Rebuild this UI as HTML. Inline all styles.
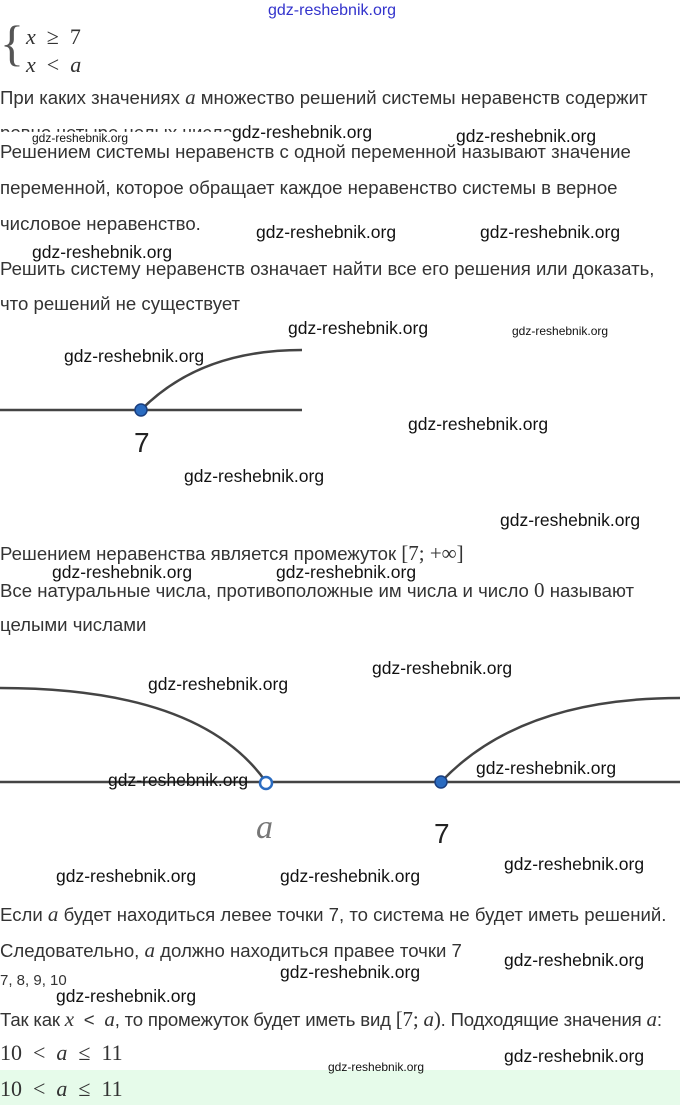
<!DOCTYPE html>
<html><head><meta charset="utf-8"><style>
body{margin:0;width:680px;height:1105px;background:#fff;position:relative;overflow:hidden;font-family:"Liberation Sans",sans-serif;}
.t{position:absolute;left:0;font-size:18.6px;color:#333;white-space:nowrap;}
.m{font-family:"Liberation Serif",serif;font-style:italic;font-size:21px;}
.w{position:absolute;font-size:17.5px;color:#111;white-space:nowrap;font-family:"Liberation Sans",sans-serif;}
.ws{font-size:12px;}
.mf{position:absolute;font-family:"Liberation Serif",serif;font-size:22px;color:#333;white-space:nowrap;}
</style></head><body>
<div class="w" style="left:268px;top:2px;color:#3333cc;font-size:16px">gdz-reshebnik.org</div>
<div class="mf" style="left:0;top:18px;font-size:50px;line-height:50px;color:#555">{</div>
<div class="mf" style="left:26px;top:24px"><i>x</i> &nbsp;≥ &nbsp;7</div>
<div class="mf" style="left:26px;top:52px"><i>x</i> &nbsp;&lt; &nbsp;<i>a</i></div>
<div class="t" style="top:85px">При каких значениях <span class="m">a</span> множество решений системы неравенств содержит</div>
<div class="t" style="top:122px;clip-path:inset(0 0 55% 0)">ровно четыре целых числа</div>
<div class="w ws" style="left:32px;top:131px">gdz-reshebnik.org</div>
<div class="w" style="left:232px;top:122px">gdz-reshebnik.org</div>
<div class="w" style="left:456px;top:126px">gdz-reshebnik.org</div>
<div class="t" style="top:141px">Решением системы неравенств с одной переменной называют значение</div>
<div class="t" style="top:177px">переменной, которое обращает каждое неравенство системы в верное</div>
<div class="t" style="top:213px">числовое неравенство.</div>
<div class="w" style="left:256px;top:222px">gdz-reshebnik.org</div>
<div class="w" style="left:480px;top:222px">gdz-reshebnik.org</div>
<div class="w" style="left:32px;top:242px">gdz-reshebnik.org</div>
<div class="t" style="top:258px">Решить систему неравенств означает найти все его решения или доказать,</div>
<div class="t" style="top:293px">что решений не существует</div>
<div class="w" style="left:288px;top:318px">gdz-reshebnik.org</div>
<div class="w ws" style="left:512px;top:324px">gdz-reshebnik.org</div>
<div class="w" style="left:64px;top:346px">gdz-reshebnik.org</div>
<div class="w" style="left:408px;top:414px">gdz-reshebnik.org</div>
<div class="w" style="left:184px;top:466px">gdz-reshebnik.org</div>
<div class="w" style="left:500px;top:510px">gdz-reshebnik.org</div>
<svg style="position:absolute;left:0;top:0" width="680" height="1105">
<line x1="0" y1="410" x2="302" y2="410" stroke="#444" stroke-width="2.5"/>
<path d="M141 410 Q200 350 302 350" fill="none" stroke="#444" stroke-width="2.5"/>
<circle cx="141" cy="410" r="6" fill="#2a6bc0" stroke="#1a3f80" stroke-width="1.5"/>
<text x="134" y="452" font-family="Liberation Sans" font-size="28" fill="#222">7</text>
<line x1="0" y1="782" x2="680" y2="782" stroke="#444" stroke-width="2.5"/>
<path d="M0 688 Q200 688 266 782" fill="none" stroke="#444" stroke-width="2.5"/>
<path d="M441 782 Q520 698 680 698" fill="none" stroke="#444" stroke-width="2.5"/>
<circle cx="266" cy="783" r="6" fill="#fff" stroke="#2a6bc0" stroke-width="2.5"/>
<circle cx="441" cy="782" r="6" fill="#2a6bc0" stroke="#1a3f80" stroke-width="1.5"/>
<text x="256" y="838" font-family="Liberation Serif" font-style="italic" font-size="34" fill="#777">a</text>
<text x="434" y="843" font-family="Liberation Sans" font-size="28" fill="#222">7</text>
</svg>
<div class="t" style="top:541px">Решением неравенства является промежуток <span class="m" style="font-style:normal">[7; +∞]</span></div>
<div class="w" style="left:52px;top:562px">gdz-reshebnik.org</div>
<div class="w" style="left:276px;top:562px">gdz-reshebnik.org</div>
<div class="t" style="top:578px">Все натуральные числа, противоположные им числа и число <span class="m" style="font-style:normal">0</span> называют</div>
<div class="t" style="top:614px">целыми числами</div>
<div class="w" style="left:372px;top:658px">gdz-reshebnik.org</div>
<div class="w" style="left:148px;top:674px">gdz-reshebnik.org</div>
<div class="w" style="left:108px;top:770px">gdz-reshebnik.org</div>
<div class="w" style="left:476px;top:758px">gdz-reshebnik.org</div>
<div class="w" style="left:504px;top:854px">gdz-reshebnik.org</div>
<div class="w" style="left:56px;top:866px">gdz-reshebnik.org</div>
<div class="w" style="left:280px;top:866px">gdz-reshebnik.org</div>
<div class="t" style="top:902px">Если <span class="m">a</span> будет находиться левее точки 7, то система не будет иметь решений.</div>
<div class="t" style="top:938px">Следовательно, <span class="m">a</span> должно находиться правее точки 7</div>
<div class="w" style="left:504px;top:950px">gdz-reshebnik.org</div>
<div class="w" style="left:280px;top:962px">gdz-reshebnik.org</div>
<div class="t" style="top:972px;font-size:15px">7, 8, 9, 10</div>
<div class="w" style="left:56px;top:986px">gdz-reshebnik.org</div>
<div class="t" style="top:1007px;letter-spacing:-0.2px">Так как <span class="m">x</span> &nbsp;&lt; &nbsp;<span class="m">a</span>, то промежуток будет иметь вид <span class="m" style="font-style:normal">[7; <i>a</i>)</span>. Подходящие значения <span class="m">a</span>:</div>
<div class="mf" style="left:0;top:1040px">10 &nbsp;&lt; &nbsp;<i>a</i> &nbsp;≤ &nbsp;11</div>
<div class="w" style="left:504px;top:1046px">gdz-reshebnik.org</div>
<div style="position:absolute;left:0;top:1070px;width:680px;height:35px;background:#e6fbea"></div>
<div class="w ws" style="left:328px;top:1060px">gdz-reshebnik.org</div>
<div class="mf" style="left:0;top:1076px">10 &nbsp;&lt; &nbsp;<i>a</i> &nbsp;≤ &nbsp;11</div>
</body></html>
